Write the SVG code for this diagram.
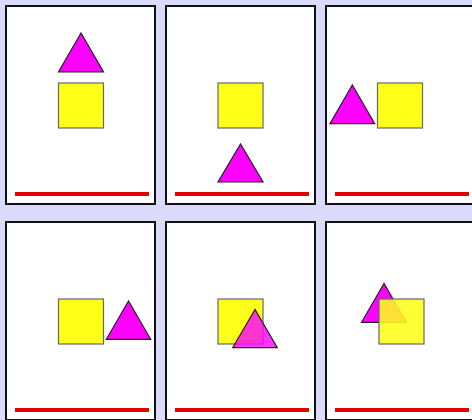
<svg xmlns="http://www.w3.org/2000/svg" width="472" height="420" viewBox="0 0 472 420">
<style>
.panel{fill:#fff;stroke:#111;stroke-width:2}
.sq{fill:#ffff1a;stroke:#666;stroke-width:1.2}
.tri{fill:#ff00ff;stroke:#222;stroke-width:1.2}
.line{stroke:#e60000;stroke-width:4}
</style>
<rect width="472" height="420" fill="#dadafc"/>
<g id="panel1">
<rect class="panel" x="6" y="6" width="149" height="198"/>
<polygon class="tri" points="81,33 58.5,72 103.5,72"/>
<rect class="sq" x="58.5" y="83" width="45" height="45"/>
<line class="line" x1="15" y1="194" x2="149" y2="194"/>
</g>
<g id="panel2">
<rect class="panel" x="166" y="6" width="149" height="198"/>
<rect class="sq" x="218" y="83" width="45" height="45"/>
<polygon class="tri" points="240.5,144 218,182 263,182"/>
<line class="line" x1="175" y1="194" x2="309" y2="194"/>
</g>
<g id="panel3">
<rect class="panel" x="326" y="6" width="149" height="198"/>
<polygon class="tri" points="352.3,85 330,123.7 374.7,123.7"/>
<rect class="sq" x="377.5" y="83" width="45" height="45"/>
<line class="line" x1="335" y1="194" x2="469" y2="194"/>
</g>
<g id="panel4">
<rect class="panel" x="6" y="222" width="149" height="198"/>
<rect class="sq" x="58.5" y="299" width="45" height="45"/>
<polygon class="tri" points="128.5,301 106.3,339.3 150.7,339.3"/>
<line class="line" x1="15" y1="410" x2="149" y2="410"/>
</g>
<g id="panel5">
<rect class="panel" x="166" y="222" width="149" height="198"/>
<rect class="sq" x="218" y="299" width="45" height="45"/>
<polygon class="tri" points="255,309.5 232.7,347.7 277.3,347.7" fill-opacity="0.8"/>
<line class="line" x1="175" y1="410" x2="309" y2="410"/>
</g>
<g id="panel6">
<rect class="panel" x="326" y="222" width="149" height="198"/>
<polygon class="tri" points="384,283.5 361.5,322.3 406.5,322.3"/>
<rect class="sq" x="379" y="299" width="45" height="45" fill="#ffff00" fill-opacity="0.88"/>
<line class="line" x1="335" y1="410" x2="469" y2="410"/>
</g>
</svg>
